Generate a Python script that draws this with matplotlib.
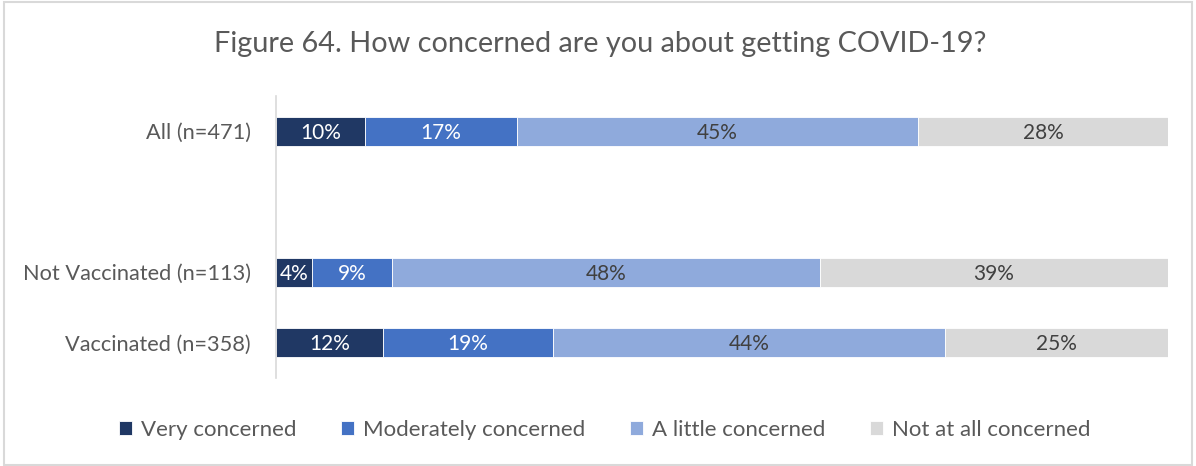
import numpy as np
import matplotlib
matplotlib.use('Agg')
import matplotlib.pyplot as plt
from matplotlib.patches import Rectangle

plt.rcParams['font.family'] = ['Lato', 'DejaVu Sans']

# categories from bottom to top, the blank one is the gap in the chart
groups = ['Vaccinated (n=358)', 'Not Vaccinated (n=113)', '', 'All (n=471)']
very = [12, 4, np.nan, 10]
moderately = [19, 9, np.nan, 17]
a_little = [44, 48, np.nan, 45]
not_at_all = [25, 39, np.nan, 28]

series_names = ['Very concerned', 'Moderately concerned', 'A little concerned', 'Not at all concerned']
colors = ['#203864', '#4472C4', '#8FAADC', '#D9D9D9']
label_colors = ['white', 'white', '#404040', '#404040']
text_gray = '#595959'

fig = plt.figure(figsize=(11.96, 4.66), dpi=100)
ax = fig.add_axes([0.2308, 0.1888, 0.7458, 0.6052])

y = np.arange(len(groups))
left = np.zeros(len(groups))
for vals, name, col, lcol in zip([very, moderately, a_little, not_at_all], series_names, colors, label_colors):
    vals = np.array(vals, dtype=float)
    ax.barh(y, np.nan_to_num(vals), left=left, height=0.41, color=col,
            edgecolor='white', linewidth=0.6, label=name)
    for i, v in enumerate(vals):
        if not np.isnan(v):
            ax.text(left[i] + v / 2, y[i] - 0.02, f'{v:.0f}%', ha='center', va='center',
                    color=lcol, fontsize=15)
    left = left + np.nan_to_num(vals)

ax.set_xlim(0, 100)
ax.set_ylim(-0.5, 3.5)
ax.set_yticks(y)
ax.set_yticklabels(groups, fontsize=15.7, color=text_gray)
ax.tick_params(axis='y', length=0, pad=18)
ax.set_xticks([])
for s in ['top', 'right', 'bottom']:
    ax.spines[s].set_visible(False)
ax.spines['left'].set_color('#D9D9D9')
ax.spines['left'].set_linewidth(1.2)

fig.text(0.502, 0.905, 'Figure 64. How concerned are you about getting COVID-19?',
         ha='center', va='center', fontsize=20.8, color=text_gray)

fig.legend(loc='center', bbox_to_anchor=(0.5054, 0.077), ncol=4, frameon=False,
           fontsize=16, handlelength=0.6, handleheight=0.6, handletextpad=0.4,
           columnspacing=2.0, labelcolor=text_gray)

fig.add_artist(Rectangle((0.003, 0.003), 0.994, 0.992, transform=fig.transFigure,
                         fill=False, edgecolor='#D9D9D9', linewidth=1.5))

fig.savefig('out.png', dpi=100)
